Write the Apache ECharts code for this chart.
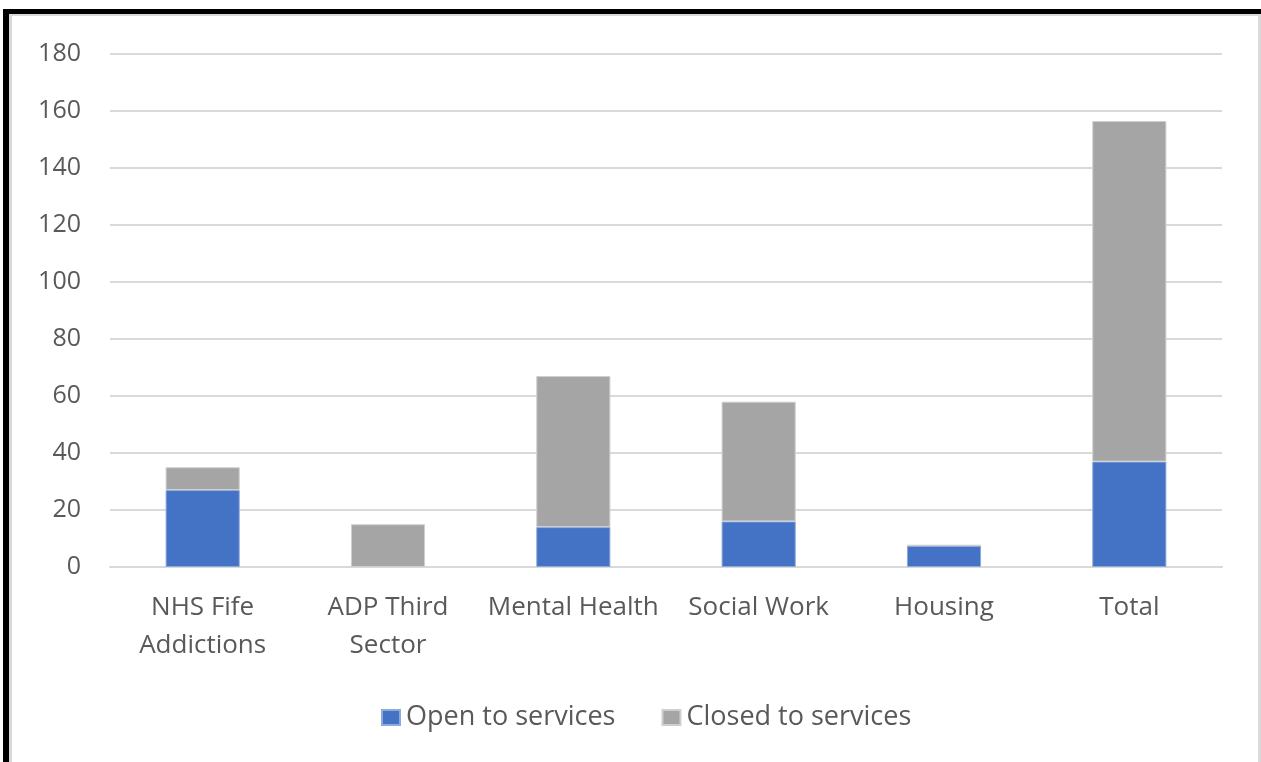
<!DOCTYPE html>
<html>
<head>
<meta charset="utf-8">
<script src="https://cdn.jsdelivr.net/npm/echarts@6/dist/echarts.min.js"></script>
<style>
  html, body { margin: 0; padding: 0; background: #fff; }
  #frame {
    position: absolute; left: 3px; top: 9px; width: 1258px; height: 753px;
    border-top: 5px solid #000; border-left: 6px solid #000; box-sizing: border-box;
  }
  #inner {
    position: absolute; left: 0; top: 0; right: 0; bottom: 0;
    border-top: 2px solid #d9d9d9; border-left: 3px solid #d9d9d9; border-right: 3px solid #d9d9d9;
  }
  #chart { position: absolute; left: 0; top: 0; width: 1261px; height: 762px; }
</style>
</head>
<body>
<div id="frame"><div id="inner"></div></div>
<div id="chart"></div>
<script>
// Service categories and counts per status
const categories = ['NHS Fife\nAddictions', 'ADP Third\nSector', 'Mental Health', 'Social Work', 'Housing', 'Total'];
const openToServices = [27, 0, 14, 16, 7.4, 37];
const closedToServices = [8, 15, 53, 42, 0.4, 119.5];
const seriesNames = ['Open to services', 'Closed to services'];

const textColor = '#595959';
const fontFamily = '"Open Sans", Lato, sans-serif';

const chart = echarts.init(document.getElementById('chart'));
chart.setOption({
  animation: false,
  textStyle: { fontFamily: fontFamily },
  grid: { left: 110, right: 39, top: 54, bottom: 195, containLabel: false },
  legend: {
    data: seriesNames,
    bottom: 26,
    left: 376,
    itemWidth: 18,
    itemHeight: 15,
    itemGap: 46,
    icon: 'rect',
    textStyle: { color: textColor, fontSize: 27, padding: [0, 0, 0, 1], fontFamily: fontFamily }
  },
  xAxis: {
    type: 'category',
    data: categories,
    axisLine: { lineStyle: { color: '#d9d9d9', width: 2 } },
    axisTick: { show: false },
    axisLabel: {
      color: textColor, fontSize: 26, lineHeight: 38, margin: 22,
      interval: 0, fontFamily: fontFamily
    }
  },
  yAxis: {
    type: 'value',
    min: 0, max: 180, interval: 20,
    axisLine: { show: false },
    axisTick: { show: false },
    splitLine: { lineStyle: { color: '#d9d9d9', width: 2 } },
    axisLabel: { color: textColor, fontSize: 25, margin: 29, fontFamily: fontFamily }
  },
  series: [
    {
      name: seriesNames[0], type: 'bar', stack: 'total',
      data: openToServices.map(v => ({ value: v, itemStyle: { borderWidth: v ? 1 : 0 } })),
      barWidth: '40%',
      itemStyle: { color: '#4472C4', borderColor: '#8eaadb', borderWidth: 1 }
    },
    {
      name: seriesNames[1], type: 'bar', stack: 'total', data: closedToServices,
      barWidth: '40%',
      itemStyle: { color: '#A5A5A5', borderColor: '#cfcfcf', borderWidth: 1 }
    }
  ]
});
</script>
</body>
</html>
